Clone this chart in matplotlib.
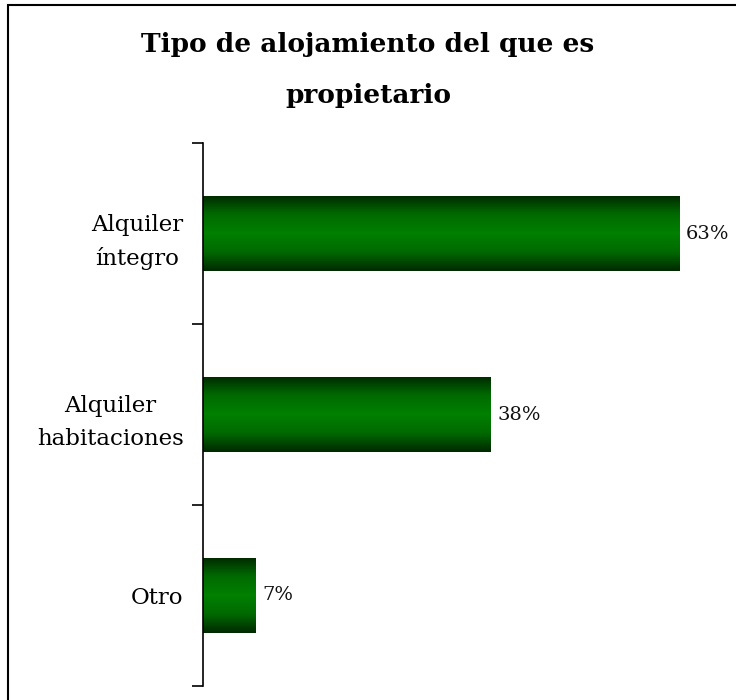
import numpy as np
import matplotlib
matplotlib.use("Agg")
import matplotlib.pyplot as plt
from matplotlib.colors import LinearSegmentedColormap

categories = ["Alquiler\níntegro", "Alquiler\nhabitaciones", "Otro"]
values = [63, 38, 7]
value_labels = ["63%", "38%", "7%"]

title = "Tipo de alojamiento del que es\npropietario"

fig = plt.figure(figsize=(7.36, 7.00), dpi=100)
ax = fig.add_axes([203 / 736, 14 / 700, 514 / 736, 543 / 700])

# vertical gradient dark -> bright green -> dark
green = LinearSegmentedColormap.from_list(
    "g", ["#002800", "#006a00", "#008000", "#006a00", "#002800"])
grad = np.linspace(0, 1, 256).reshape(-1, 1)

ypos = np.arange(len(categories))
bars = ax.barh(ypos, values, height=0.415, color="none", edgecolor="none")
for rect in bars:
    x0, y0 = rect.get_x(), rect.get_y()
    w, h = rect.get_width(), rect.get_height()
    im = ax.imshow(grad, cmap=green, aspect="auto", interpolation="bicubic",
                   extent=(x0, x0 + w, y0 + h, y0), zorder=2)
    im.set_clip_path(rect)

for y, v, lab in zip(ypos, values, value_labels):
    ax.text(v + 0.9, y, lab, va="center", ha="left", fontsize=14,
            family="DejaVu Serif", color="#111111")

ax.set_xlim(0, 68)
ax.set_ylim(2.5, -0.5)
ax.set_yticks(ypos)
ax.set_yticklabels(categories, family="DejaVu Serif", fontsize=16.5,
                   ha="right", multialignment="center", linespacing=1.65)
ax.tick_params(axis="y", which="major", length=0, pad=14)
ax.set_yticks([-0.5, 0.5, 1.5, 2.5], minor=True)
ax.tick_params(axis="y", which="minor", length=8, width=1.2, direction="out")
ax.set_xticks([])
for s in ["top", "right", "bottom"]:
    ax.spines[s].set_visible(False)
ax.spines["left"].set_linewidth(1.2)

fig.text(0.5, 1 - 70 / 700, title, ha="center", va="center", fontsize=19,
         fontweight="bold", family="DejaVu Serif", linespacing=2.3)

# chart border (right/bottom edges fall outside the image)
fig.add_artist(plt.Rectangle((8 / 736, -0.05), 1.1, 1 - 5 / 700 + 0.05,
                             transform=fig.transFigure, fill=False,
                             edgecolor="black", linewidth=1.5))

fig.savefig("out.png", dpi=100)
